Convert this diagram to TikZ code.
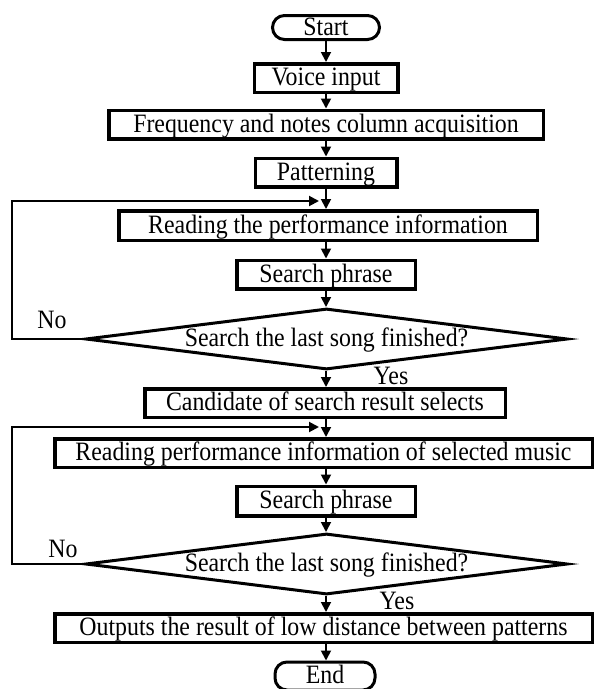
\documentclass[tikz,border=0pt]{standalone}
\usepackage{fontspec}
\setmainfont{Liberation Serif}[FakeStretch=0.9]
\usetikzlibrary{shapes.geometric,arrows.meta}
\begin{document}
\begin{tikzpicture}[x=1pt,y=-1pt,
  txt/.style={font=\fontsize{26.5}{28}\selectfont,text height=17.5pt,text depth=2pt},
  box/.style={txt,draw,line width=3.5pt,inner sep=0pt,minimum height=28.5pt},
  term/.style={txt,draw,line width=3pt,inner sep=0pt,rounded corners=12pt,minimum height=24pt},
  dec/.style={txt,draw,diamond,aspect=7.6,line width=3pt,inner sep=0pt,minimum width=482pt,minimum height=61pt},
  arr/.style={line width=1.8pt,-{Triangle[length=10pt,width=10pt]}},
  back/.style={line width=2pt,-{Triangle[length=10pt,width=10pt]}},
  lbl/.style={txt,inner sep=0pt}]
\useasboundingbox (0,0) rectangle (597,689);
\clip (0,0) rectangle (597,689);
\fill[white] (0,0) rectangle (597,689);

\node[term,minimum width=107pt] (start) at (326,27.5) {Start};
\node[box,minimum width=143.5pt] (voice) at (326,78) {Voice input};
\node[box,minimum width=434.5pt] (freq) at (326,124.5) {Frequency and notes column acquisition};
\node[box,minimum width=141.5pt] (pat) at (326,172.5) {Patterning};
\node[box,minimum width=418.5pt,minimum height=29.5pt] (read1) at (328,225.5) {Reading the performance information};
\node[box,minimum width=178.5pt] (search1) at (326,274.5) {Search phrase};
\node[dec] (dec1) at (326.5,339) {Search the last song finished?};
\node[box,minimum width=360.5pt] (cand) at (325,403) {Candidate of search result selects};
\node[box,minimum width=537.5pt] (read2) at (323.5,453) {Reading performance information of selected music};
\node[box,minimum width=178.5pt,minimum height=29.5pt] (search2) at (326,501) {Search phrase};
\node[dec] (dec2) at (326.5,564) {Search the last song finished?};
\node[box,minimum width=537.5pt] (out) at (323.5,628) {Outputs the result of low distance between patterns};
\node[term,minimum width=100pt,minimum height=28pt] (end) at (325,676) {End};

\draw[arr] (start.south -| voice.center) -- (voice.north);
\draw[arr] (voice.south) -- (freq.north -| voice.center);
\draw[arr] (freq.south -| pat.center) -- (pat.north);
\draw[arr] (pat.south) -- (read1.north -| pat.center);
\draw[arr] (read1.south -| search1.center) -- (search1.north);
\draw[arr] (search1.south) -- (dec1.north -| search1.center);
\draw[arr] (dec1.south -| search1.center) -- (cand.north -| search1.center);
\draw[arr] (cand.south -| search2.center) -- (read2.north -| search2.center);
\draw[arr] (read2.south -| search2.center) -- (search2.north);
\draw[arr] (search2.south) -- (dec2.north -| search2.center);
\draw[arr] (dec2.south -| search2.center) -- (out.north -| search2.center);
\draw[arr] (out.south -| search2.center) -- (end.north -| search2.center);

\coordinate (cornerA) at (12,201);
\coordinate (tipA) at (319,201);
\coordinate (cornerB) at (12,427);
\coordinate (tipB) at (319,427);
\draw[back] (dec1.west) -| (cornerA) -- (tipA);
\draw[back] (dec2.west) -| (cornerB) -- (tipB);

\node[lbl] (no1) at (52,321) {No};
\node[lbl] (yes1) at (391,377) {Yes};
\node[lbl] (no2) at (63,550) {No};
\node[lbl] (yes2) at (397,602) {Yes};
\end{tikzpicture}
\end{document}
